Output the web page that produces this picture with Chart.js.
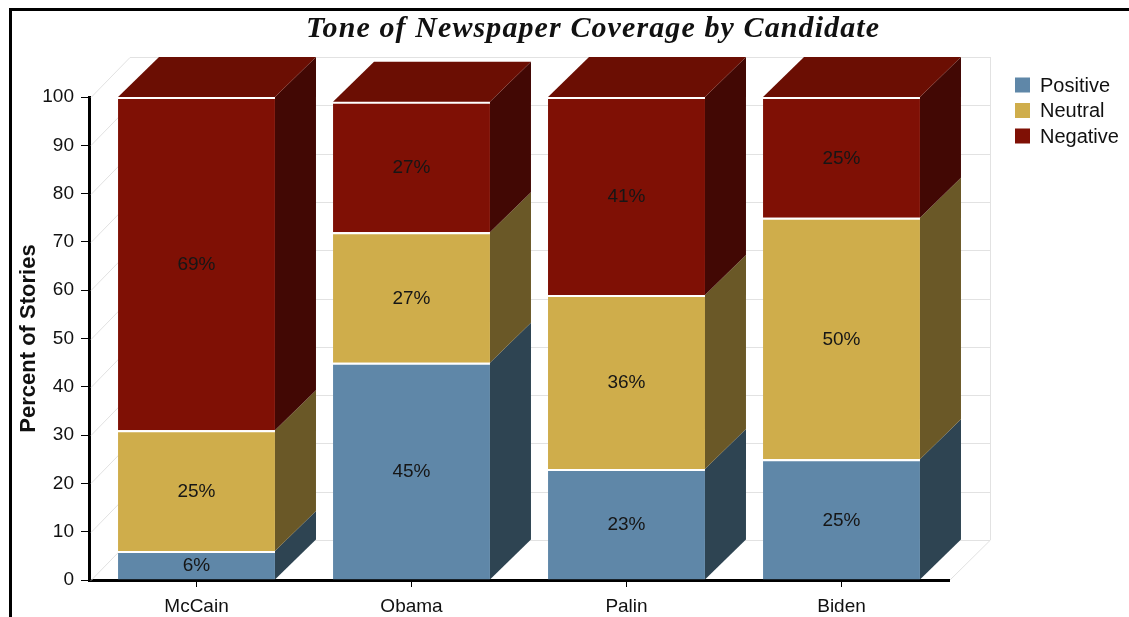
<!DOCTYPE html>
<html>
<head>
<meta charset="utf-8">
<script src="https://cdn.jsdelivr.net/npm/chart.js@4.4.1/dist/chart.umd.min.js"></script>
<style>
  html, body { margin: 0; padding: 0; background: #fff; }
  canvas { display: block; }
</style>
</head>
<body>
<canvas id="c" width="1129" height="617"></canvas>
<script>
// ---- data ----
const candidates = ['McCain', 'Obama', 'Palin', 'Biden'];
const seriesNames = ['Positive', 'Neutral', 'Negative'];
const positive = [6, 45, 23, 25];
const neutral  = [25, 27, 36, 50];
const negative = [69, 27, 41, 25];
const yTickMin = 0, yTickMax = 100, yTickStep = 10;
const chartTitle = 'Tone of Newspaper Coverage by Candidate';
const yAxisTitle = 'Percent of Stories';

// ---- styling ----
const frontColors = ['#5f87a8', '#cfad4b', '#7f1005'];
const sideColors  = ['#2e4452', '#6a5827', '#420804'];
const topColors   = ['#4a6c88', '#a88c3a', '#6b0e03'];
const DEPTH_X = 41, DEPTH_Y = -40;
const SANS = '"Liberation Sans", Arial, sans-serif';

Chart.defaults.font.family = SANS;
Chart.defaults.color = '#111';

const seriesValues = [positive, neutral, negative];

// back wall, floor and the receding grid lines
const wallPlugin = {
  id: 'wall',
  beforeDraw(chart) {
    const ctx = chart.ctx;
    ctx.save();
    ctx.fillStyle = '#fff';
    ctx.fillRect(0, 0, chart.width, chart.height);
    // outer frame (top and left edges)
    ctx.fillStyle = '#000';
    ctx.fillRect(9, 8, chart.width - 9, 3);
    ctx.fillRect(9, 8, 3, chart.height - 8);
    ctx.restore();
  },
  beforeDatasetsDraw(chart) {
    const ctx = chart.ctx;
    const {left, right, top, bottom} = chart.chartArea;
    const y = chart.scales.y;
    ctx.save();
    ctx.strokeStyle = '#e2e2e2';
    ctx.lineWidth = 1;
    for (let v = yTickMin; v <= yTickMax; v += yTickStep) {
      const py = Math.round(y.getPixelForValue(v)) + 0.5;
      ctx.beginPath();
      ctx.moveTo(left + 2, py);
      ctx.lineTo(left + DEPTH_X, py + DEPTH_Y);
      ctx.lineTo(right + DEPTH_X, py + DEPTH_Y);
      ctx.stroke();
    }
    ctx.beginPath();
    ctx.moveTo(right + DEPTH_X + 0.5, top + DEPTH_Y);
    ctx.lineTo(right + DEPTH_X + 0.5, bottom + DEPTH_Y);
    ctx.lineTo(right + 1, bottom);
    ctx.stroke();
    ctx.restore();
  },
  afterDatasetsDraw(chart) {
    const ctx = chart.ctx;
    const n = chart.data.datasets.length;
    ctx.save();
    // side and top faces of every stacked block
    chart.data.datasets.forEach((ds, di) => {
      const meta = chart.getDatasetMeta(di);
      meta.data.forEach((bar) => {
        const p = bar.getProps(['x', 'y', 'base', 'width'], true);
        const xl = p.x - p.width / 2, xr = p.x + p.width / 2;
        ctx.fillStyle = sideColors[di];
        ctx.beginPath();
        ctx.moveTo(xr, p.y);
        ctx.lineTo(xr + DEPTH_X, p.y + DEPTH_Y);
        ctx.lineTo(xr + DEPTH_X, p.base + DEPTH_Y);
        ctx.lineTo(xr, p.base);
        ctx.closePath();
        ctx.fill();
        if (di === n - 1) {
          ctx.fillStyle = topColors[di];
          ctx.beginPath();
          ctx.moveTo(xl, p.y);
          ctx.lineTo(xl + DEPTH_X, p.y + DEPTH_Y);
          ctx.lineTo(xr + DEPTH_X, p.y + DEPTH_Y);
          ctx.lineTo(xr, p.y);
          ctx.closePath();
          ctx.fill();
        }
      });
    });
    // value labels on the front faces
    ctx.font = '19px ' + SANS;
    ctx.fillStyle = '#161616';
    ctx.textAlign = 'center';
    ctx.textBaseline = 'middle';
    chart.data.datasets.forEach((ds, di) => {
      const meta = chart.getDatasetMeta(di);
      meta.data.forEach((bar, i) => {
        const p = bar.getProps(['x', 'y', 'base'], true);
        ctx.fillText(ds.data[i] + '%', p.x, (p.y + p.base) / 2 + 1);
      });
    });
    ctx.restore();
  },
  afterDraw(chart) {
    const ctx = chart.ctx;
    ctx.save();
    // title
    ctx.font = 'italic bold 30px "Liberation Serif", "Times New Roman", serif';
    ctx.letterSpacing = '1.1px';
    ctx.fillStyle = '#111';
    ctx.textAlign = 'center';
    ctx.textBaseline = 'alphabetic';
    ctx.fillText(chartTitle, 593, 37);
    ctx.letterSpacing = '0px';
    // legend
    ctx.font = '20px ' + SANS;
    ctx.textAlign = 'left';
    ctx.textBaseline = 'middle';
    chart.data.datasets.forEach((ds, di) => {
      const cy = 85 + di * 25.5;
      ctx.fillStyle = ds.backgroundColor;
      ctx.fillRect(1015, cy - 7.5, 15, 15);
      ctx.fillStyle = '#111';
      ctx.fillText(ds.label, 1040, cy + 1);
    });
    ctx.restore();
  }
};

new Chart(document.getElementById('c'), {
  type: 'bar',
  data: {
    labels: candidates,
    datasets: seriesNames.map((name, i) => ({
      label: name,
      data: seriesValues[i],
      backgroundColor: frontColors[i],
      borderColor: '#ffffff',
      borderWidth: {top: 2, left: 0, right: 0, bottom: 0},
      borderSkipped: false,
      barPercentage: 0.73,
      categoryPercentage: 1.0
    }))
  },
  options: {
    responsive: false,
    devicePixelRatio: 1,
    animation: false,
    layout: { padding: { top: 97, left: 14, right: 180, bottom: 0 } },
    plugins: {
      legend: { display: false },
      title: { display: false },
      tooltip: { enabled: false }
    },
    scales: {
      x: {
        stacked: true,
        grid: { display: true, drawOnChartArea: false, offset: false, tickLength: 7, color: '#000', lineWidth: 1 },
        border: { display: true, color: '#000', width: 3 },
        ticks: { font: { size: 19 }, color: '#111', padding: 8 },
        afterFit(s) { s.height = 37; }
      },
      y: {
        stacked: true,
        min: yTickMin,
        max: yTickMax,
        ticks: { stepSize: yTickStep, font: { size: 19 }, color: '#111', padding: 7 },
        grid: { display: true, drawOnChartArea: false, tickLength: 8, color: '#000', lineWidth: 1 },
        border: { display: true, color: '#000', width: 3 },
        title: { display: true, text: yAxisTitle, font: { size: 22, weight: 'bold' }, color: '#111', padding: { top: 2, bottom: 0 } },
        afterFit(s) { s.width = 75; }
      }
    }
  },
  plugins: [wallPlugin]
});
</script>
</body>
</html>
